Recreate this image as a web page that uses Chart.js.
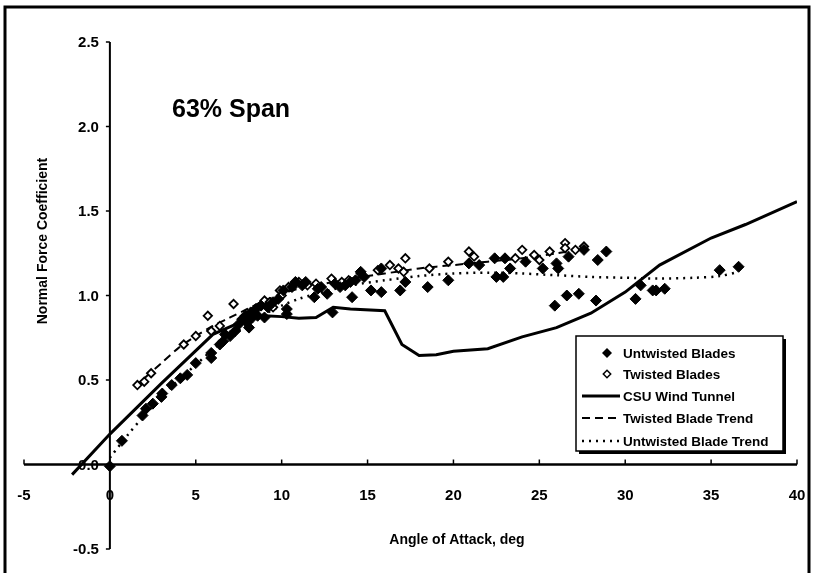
<!DOCTYPE html>
<html>
<head>
<meta charset="utf-8">
<title>63% Span</title>
<script src="https://cdn.jsdelivr.net/npm/chart.js@4.4.1/dist/chart.umd.min.js"></script>
<style>
  body { margin: 0; background: #fff; }
  #wrap { width: 819px; height: 573px; }
</style>
</head>
<body>
<div id="wrap"><canvas id="myChart" width="819" height="573"></canvas></div>
<script>
// Datos

const angleTicks = [-5, 0, 5, 10, 15, 20, 25, 30, 35, 40];
const coefTicks = [-0.5, 0, 0.5, 1, 1.5, 2, 2.5];
const coefTickLabels = ["-0.5", "0.0", "0.5", "1.0", "1.5", "2.0", "2.5"];

// Untwisted Blades (rombos llenos)
const untwistedAngle = [0, 0.7, 1.9, 2.1, 2.5, 3.0, 3.05, 3.6, 4.1, 4.5, 5.0, 5.9, 5.9, 6.4, 6.6, 6.7, 7.0, 7.3, 7.5, 7.7, 7.9, 8.0, 8.1, 8.2, 8.3, 8.5, 8.6, 8.8, 9.0, 9.2, 9.5, 9.8, 10.1, 10.3, 10.3, 10.6, 10.8, 11.2, 11.4, 11.9, 12.1, 12.3, 12.65, 12.96, 13.1, 13.4, 13.7, 14.0, 14.1, 14.3, 14.6, 14.8, 15.2, 15.8, 15.8, 16.9, 17.2, 18.5, 19.7, 20.9, 21.5, 22.4, 22.5, 22.9, 23.0, 23.3, 24.2, 25.2, 25.9, 26.0, 26.1, 26.6, 26.7, 27.3, 27.6, 28.3, 28.4, 28.9, 30.6, 30.9, 31.6, 31.8, 32.3, 35.5, 36.6];
const untwistedCn = [-0.01, 0.14, 0.29, 0.33, 0.36, 0.40, 0.42, 0.47, 0.51, 0.53, 0.60, 0.63, 0.66, 0.71, 0.73, 0.77, 0.76, 0.79, 0.83, 0.86, 0.88, 0.84, 0.81, 0.90, 0.87, 0.92, 0.88, 0.94, 0.87, 0.93, 0.96, 0.98, 1.03, 0.92, 0.89, 1.05, 1.08, 1.06, 1.08, 0.99, 1.04, 1.05, 1.01, 0.90, 1.07, 1.05, 1.06, 1.08, 0.99, 1.09, 1.14, 1.11, 1.03, 1.02, 1.16, 1.03, 1.08, 1.05, 1.09, 1.19, 1.18, 1.22, 1.11, 1.11, 1.22, 1.16, 1.20, 1.16, 0.94, 1.19, 1.16, 1.00, 1.23, 1.01, 1.27, 0.97, 1.21, 1.26, 0.98, 1.06, 1.03, 1.03, 1.04, 1.15, 1.17];

// Twisted Blades (rombos vacios)
const twistedAngle = [1.6, 2.0, 2.4, 4.3, 5.0, 5.7, 5.9, 6.4, 7.2, 7.9, 8.3, 8.8, 9.0, 9.3, 9.5, 9.9, 10.0, 10.4, 11.0, 11.5, 12.0, 12.9, 13.5, 13.9, 14.6, 15.6, 16.3, 16.8, 17.2, 17.1, 18.6, 19.7, 20.9, 21.2, 23.6, 24.0, 24.7, 25.0, 25.6, 26.5, 26.5, 27.1, 27.6];
const twistedCn = [0.47, 0.49, 0.54, 0.71, 0.76, 0.88, 0.79, 0.82, 0.95, 0.87, 0.90, 0.94, 0.97, 0.96, 0.93, 1.03, 1.00, 1.05, 1.08, 1.06, 1.07, 1.10, 1.08, 1.09, 1.13, 1.15, 1.18, 1.16, 1.22, 1.14, 1.16, 1.20, 1.26, 1.23, 1.22, 1.27, 1.24, 1.21, 1.26, 1.31, 1.28, 1.27, 1.29];

// CSU Wind Tunnel
const csuAngle = [-2.2, 0, 3, 6, 8, 9, 10, 11, 12, 13, 14, 16, 17, 18, 19, 20, 22, 24, 26, 28, 30, 32, 35, 37, 40];
const csuCn = [-0.06, 0.18, 0.48, 0.77, 0.86, 0.88, 0.875, 0.865, 0.87, 0.93, 0.92, 0.91, 0.71, 0.645, 0.65, 0.67, 0.685, 0.755, 0.81, 0.895, 1.02, 1.18, 1.34, 1.42, 1.555];

// Twisted Blade Trend
const twistedTrendAngle = [1.5, 2, 3, 4, 5, 6, 7, 8, 9, 10, 11, 12, 14, 16, 18, 20, 22, 24, 26, 27.8];
const twistedTrendCn = [0.46, 0.51, 0.60, 0.69, 0.76, 0.82, 0.87, 0.92, 0.97, 1.01, 1.04, 1.06, 1.10, 1.13, 1.16, 1.18, 1.20, 1.22, 1.25, 1.28];

// Untwisted Blade Trend
const untwistedTrendAngle = [0, 1, 2, 3, 4, 5, 6, 7, 8, 9, 10, 11, 12, 14, 16, 18, 20, 22, 24, 26, 28, 30, 32, 34, 35.5, 36.6];
const untwistedTrendCn = [0.04, 0.17, 0.29, 0.40, 0.50, 0.59, 0.68, 0.76, 0.83, 0.89, 0.94, 0.98, 1.01, 1.06, 1.09, 1.115, 1.13, 1.135, 1.13, 1.12, 1.11, 1.105, 1.10, 1.105, 1.115, 1.14];

const legendLabels = ["Untwisted Blades", "Twisted Blades", "CSU Wind Tunnel", "Twisted Blade Trend", "Untwisted Blade Trend"];

function toPoints(xs, ys) {
  return xs.map((x, i) => ({ x: x, y: ys[i] }));
}

const FONT = "'Liberation Sans', Arial, sans-serif";

// dibuja un rombo
function diamond(ctx, x, y, r, filled) {
  ctx.beginPath();
  ctx.moveTo(x, y - r);
  ctx.lineTo(x + r, y);
  ctx.lineTo(x, y + r);
  ctx.lineTo(x - r, y);
  ctx.closePath();
  if (filled) {
    ctx.fillStyle = "#000";
    ctx.fill();
  } else {
    ctx.fillStyle = "#fff";
    ctx.fill();
    ctx.lineWidth = 1.5;
    ctx.strokeStyle = "#000";
    ctx.stroke();
  }
}

// Plugin: marco, ejes cruzados en cero, titulos y leyenda
const excelLook = {
  id: "excelLook",
  beforeDraw(chart) {
    const ctx = chart.ctx;
    ctx.save();
    ctx.fillStyle = "#fff";
    ctx.fillRect(0, 0, chart.width, chart.height);
    ctx.strokeStyle = "#000";
    ctx.lineWidth = 3;
    ctx.beginPath();
    ctx.moveTo(5, chart.height);
    ctx.lineTo(5, 7);
    ctx.lineTo(809, 7);
    ctx.lineTo(809, chart.height);
    ctx.stroke();
    ctx.restore();
  },
  beforeDatasetsDraw(chart) {
    const ctx = chart.ctx;
    const xs = chart.scales.x;
    const ys = chart.scales.y;
    const x0 = xs.getPixelForValue(0);
    const y0 = ys.getPixelForValue(0);
    ctx.save();
    ctx.strokeStyle = "#000";
    // eje y
    ctx.lineWidth = 2;
    ctx.beginPath();
    ctx.moveTo(x0, ys.getPixelForValue(coefTicks[coefTicks.length - 1]));
    ctx.lineTo(x0, ys.getPixelForValue(coefTicks[0]));
    ctx.stroke();
    // eje x
    ctx.lineWidth = 2.5;
    ctx.beginPath();
    ctx.moveTo(xs.getPixelForValue(angleTicks[0]), y0);
    ctx.lineTo(xs.getPixelForValue(angleTicks[angleTicks.length - 1]), y0);
    ctx.stroke();
    // marcas
    ctx.lineWidth = 1.5;
    angleTicks.forEach((v) => {
      const px = xs.getPixelForValue(v);
      ctx.beginPath();
      ctx.moveTo(px, y0);
      ctx.lineTo(px, y0 - 5);
      ctx.stroke();
    });
    coefTicks.forEach((v) => {
      const py = ys.getPixelForValue(v);
      ctx.beginPath();
      ctx.moveTo(x0, py);
      ctx.lineTo(x0 - 4, py);
      ctx.stroke();
    });
    // etiquetas
    ctx.fillStyle = "#000";
    ctx.font = "bold 15px " + FONT;
    ctx.textAlign = "center";
    ctx.textBaseline = "middle";
    angleTicks.forEach((v) => {
      ctx.fillText(String(v), xs.getPixelForValue(v), 496);
    });
    ctx.textAlign = "right";
    coefTicks.forEach((v, i) => {
      ctx.fillText(coefTickLabels[i], x0 - 11, ys.getPixelForValue(v) + 1);
    });
    // titulos de ejes
    ctx.font = "bold 14px " + FONT;
    ctx.textAlign = "center";
    ctx.fillText("Angle of Attack, deg", 457, 540);
    ctx.save();
    ctx.translate(43, 241);
    ctx.rotate(-Math.PI / 2);
    ctx.fillText("Normal Force Coefficient", 0, 0);
    ctx.restore();
    // titulo
    ctx.font = "bold 25px " + FONT;
    ctx.textAlign = "left";
    ctx.textBaseline = "alphabetic";
    ctx.fillText("63% Span", 172, 117);
    ctx.restore();
  },
  afterDraw(chart) {
    const ctx = chart.ctx;
    const sets = chart.data.datasets;
    const bx = 576, by = 336, bw = 207, bh = 115;
    ctx.save();
    ctx.fillStyle = "#fff";
    ctx.fillRect(bx, by, bw, bh);
    ctx.fillStyle = "#000";
    ctx.fillRect(bx + 3, by + bh, bw, 3);
    ctx.fillRect(bx + bw, by + 3, 3, bh);
    ctx.strokeStyle = "#000";
    ctx.lineWidth = 1.5;
    ctx.strokeRect(bx, by, bw, bh);
    const rows = [353, 374, 396, 418, 441];
    ctx.font = "bold 13.5px " + FONT;
    ctx.textBaseline = "middle";
    ctx.textAlign = "left";
    sets.forEach((ds, i) => {
      const ry = rows[i];
      if (ds.showLine) {
        ctx.strokeStyle = ds.borderColor;
        ctx.lineWidth = ds.borderWidth;
        ctx.setLineDash(ds.borderDash || []);
        ctx.beginPath();
        ctx.moveTo(582, ry);
        ctx.lineTo(620, ry);
        ctx.stroke();
        ctx.setLineDash([]);
      } else {
        diamond(ctx, 607, ry, ds.pointRadius - 0.5, ds.backgroundColor === "#000");
      }
      ctx.fillStyle = "#000";
      ctx.fillText(legendLabels[i], 623, ry + 1);
    });
    ctx.restore();
  }
};

const config = {
  type: "scatter",
  data: {
    datasets: [
      {
        label: legendLabels[0],
        data: toPoints(untwistedAngle, untwistedCn),
        pointStyle: "rectRot",
        pointRadius: 5.5,
        backgroundColor: "#000",
        borderColor: "#000",
        borderWidth: 1
      },
      {
        label: legendLabels[1],
        data: toPoints(twistedAngle, twistedCn),
        pointStyle: "rectRot",
        pointRadius: 4.2,
        backgroundColor: "#fff",
        borderColor: "#000",
        borderWidth: 1.8
      },
      {
        label: legendLabels[2],
        data: toPoints(csuAngle, csuCn),
        showLine: true,
        pointRadius: 0,
        borderColor: "#000",
        borderWidth: 3,
        tension: 0
      },
      {
        label: legendLabels[3],
        data: toPoints(twistedTrendAngle, twistedTrendCn),
        showLine: true,
        pointRadius: 0,
        borderColor: "#000",
        borderWidth: 2,
        borderDash: [8, 5],
        tension: 0.3
      },
      {
        label: legendLabels[4],
        data: toPoints(untwistedTrendAngle, untwistedTrendCn),
        showLine: true,
        pointRadius: 0,
        borderColor: "#000",
        borderWidth: 2.5,
        borderDash: [2, 5],
        tension: 0.3
      }
    ]
  },
  options: {
    responsive: false,
    animation: false,
    devicePixelRatio: 1,
    layout: { padding: { left: 24, right: 22, top: 42, bottom: 24 } },
    plugins: { legend: { display: false }, tooltip: { enabled: false } },
    scales: {
      x: { type: "linear", min: -5, max: 40, display: false },
      y: { type: "linear", min: -0.5, max: 2.5, display: false }
    }
  },
  plugins: [excelLook]
};

const myChart = document.getElementById("myChart");
new Chart(myChart, config);
</script>
</body>
</html>
